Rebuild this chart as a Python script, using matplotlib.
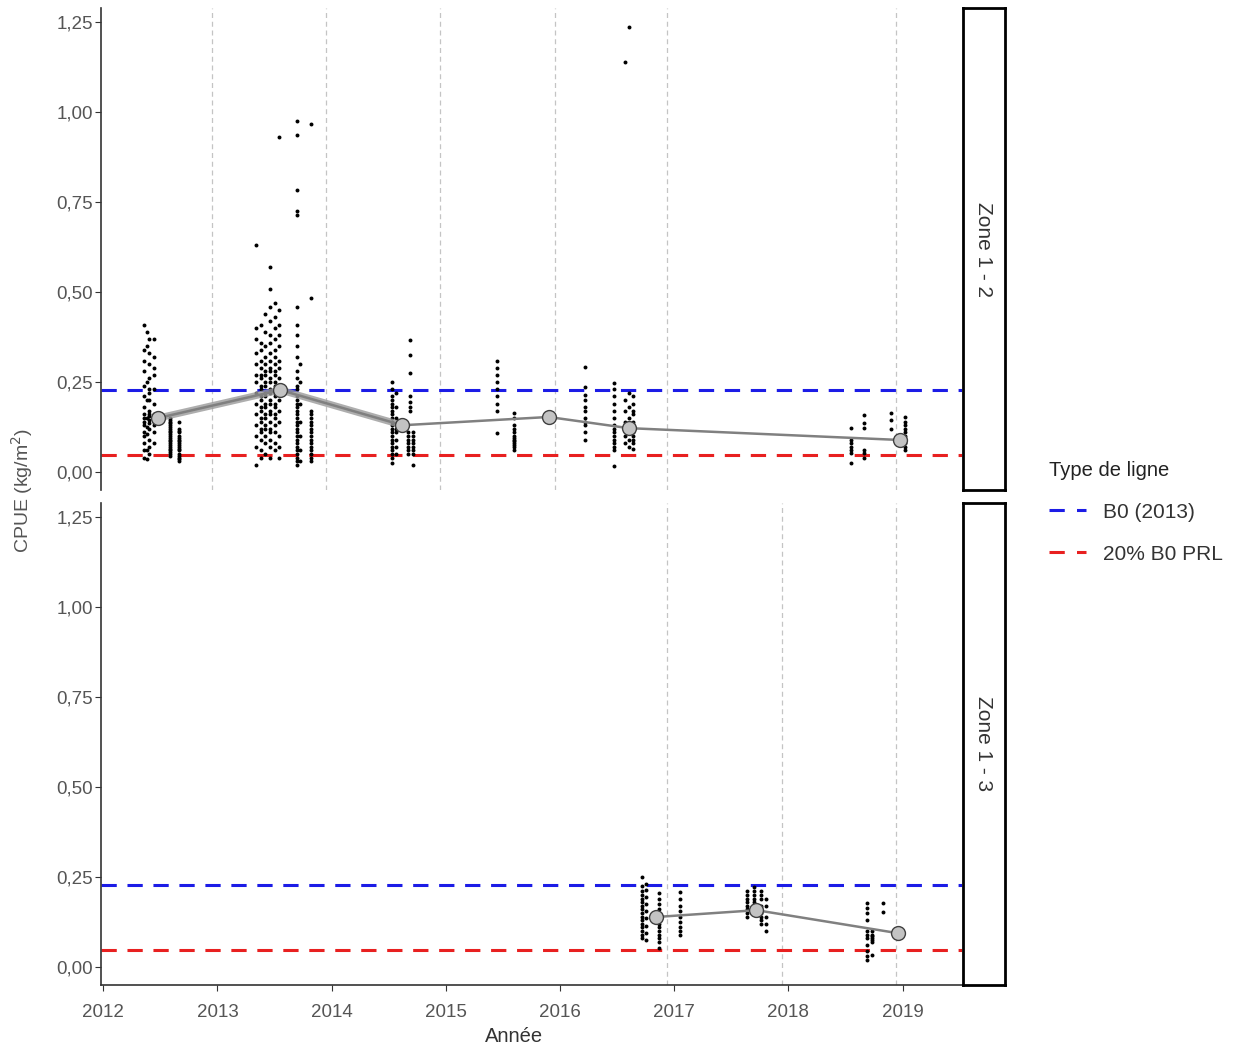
import matplotlib.pyplot as plt
from matplotlib.lines import Line2D

plt.rcParams['font.family'] = ['Liberation Sans', 'DejaVu Sans']

# reference levels
b0 = 0.228
prl = 0.047

# vertical guides (end of each fishing season)
vlines_z12 = [2012.95, 2013.95, 2014.95, 2015.96, 2016.94, 2018.94]
vlines_z13 = [2016.94, 2017.94, 2018.94]

# yearly means
mean_z12_x = [2012.48, 2013.55, 2014.62, 2015.90, 2016.60, 2018.98]
mean_z12_y = [0.150, 0.228, 0.130, 0.153, 0.122, 0.089]
mean_z13_x = [2016.84, 2017.72, 2018.96]
mean_z13_y = [0.139, 0.158, 0.094]

# individual tows, grouped by date column
z12_cols_x = [2012.36, 2012.40, 2012.44, 2012.38, 2012.585, 2012.66,
              2013.34, 2013.38, 2013.42, 2013.46, 2013.50, 2013.54,
              2013.70, 2013.72, 2013.82,
              2014.53, 2014.56, 2014.69, 2014.67, 2014.715,
              2015.45, 2015.60, 2016.22, 2016.47, 2016.57, 2016.60, 2016.64,
              2018.55, 2018.66, 2018.90, 2019.02]
z12_cols_y = [
    [0.41, 0.34, 0.31, 0.28, 0.24, 0.21, 0.18, 0.16, 0.15, 0.14, 0.13, 0.11, 0.10, 0.08, 0.06, 0.04],
    [0.37, 0.33, 0.30, 0.26, 0.23, 0.22, 0.20, 0.17, 0.16, 0.155, 0.145, 0.135, 0.12, 0.09, 0.07, 0.05],
    [0.37, 0.32, 0.29, 0.27, 0.23, 0.19, 0.16, 0.14, 0.13, 0.11, 0.08],
    [0.39, 0.35, 0.25, 0.20, 0.15, 0.125, 0.105, 0.06, 0.035],
    [0.15, 0.145, 0.14, 0.135, 0.13, 0.125, 0.12, 0.115, 0.11, 0.105, 0.10, 0.095,
     0.09, 0.085, 0.08, 0.075, 0.07, 0.065, 0.06, 0.055, 0.05, 0.045],
    [0.14, 0.12, 0.115, 0.11, 0.10, 0.095, 0.09, 0.085, 0.08, 0.075, 0.07, 0.065,
     0.06, 0.05, 0.045, 0.04, 0.035, 0.03],
    [0.63, 0.40, 0.37, 0.33, 0.30, 0.27, 0.25, 0.22, 0.19, 0.16, 0.13, 0.10, 0.07, 0.02],
    [0.41, 0.36, 0.34, 0.31, 0.29, 0.27, 0.26, 0.24, 0.23, 0.21, 0.20, 0.18, 0.17, 0.15,
     0.14, 0.12, 0.11, 0.09, 0.06, 0.04],
    [0.44, 0.39, 0.35, 0.32, 0.30, 0.28, 0.27, 0.25, 0.24, 0.22, 0.21, 0.19, 0.18, 0.16,
     0.15, 0.13, 0.12, 0.10, 0.08, 0.05],
    [0.57, 0.51, 0.46, 0.42, 0.38, 0.36, 0.33, 0.31, 0.29, 0.28, 0.26, 0.25, 0.23, 0.22,
     0.20, 0.19, 0.17, 0.16, 0.14, 0.12, 0.11, 0.09, 0.07, 0.04],
    [0.47, 0.43, 0.40, 0.37, 0.34, 0.32, 0.30, 0.28, 0.27, 0.25, 0.24, 0.22, 0.21, 0.19,
     0.18, 0.16, 0.15, 0.13, 0.11, 0.08, 0.06],
    [0.93, 0.45, 0.41, 0.38, 0.35, 0.31, 0.29, 0.26, 0.23, 0.20, 0.17, 0.14, 0.10, 0.07, 0.04],
    [0.975, 0.936, 0.783, 0.725, 0.715, 0.46, 0.41, 0.38, 0.35, 0.32, 0.28, 0.26, 0.24,
     0.23, 0.21, 0.20, 0.19, 0.18, 0.17, 0.16, 0.15, 0.14, 0.13, 0.12, 0.11, 0.10, 0.09,
     0.08, 0.07, 0.06, 0.05, 0.04, 0.03, 0.02],
    [0.30, 0.25, 0.19, 0.14, 0.10, 0.06, 0.03],
    [0.967, 0.483, 0.17, 0.16, 0.15, 0.14, 0.13, 0.12, 0.11, 0.10, 0.09, 0.08, 0.07,
     0.06, 0.05, 0.04, 0.03],
    [0.25, 0.23, 0.21, 0.20, 0.19, 0.18, 0.17, 0.16, 0.15, 0.14, 0.13, 0.12, 0.11, 0.10,
     0.09, 0.08, 0.07, 0.06, 0.05, 0.04, 0.025],
    [0.22, 0.18, 0.15, 0.13, 0.12, 0.11, 0.09, 0.07, 0.05],
    [0.367, 0.325, 0.275, 0.21, 0.195, 0.18, 0.17],
    [0.11, 0.10, 0.09, 0.08, 0.07, 0.06, 0.05],
    [0.11, 0.10, 0.09, 0.08, 0.07, 0.06, 0.05, 0.02],
    [0.31, 0.29, 0.27, 0.25, 0.23, 0.21, 0.19, 0.17, 0.108],
    [0.163, 0.15, 0.13, 0.12, 0.11, 0.10, 0.095, 0.09, 0.085, 0.08, 0.075, 0.07, 0.06],
    [0.292, 0.236, 0.215, 0.20, 0.18, 0.17, 0.15, 0.14, 0.13, 0.11, 0.09],
    [0.247, 0.23, 0.21, 0.19, 0.17, 0.15, 0.13, 0.12, 0.11, 0.10, 0.09, 0.08, 0.07, 0.06, 0.017],
    [1.139, 0.20, 0.17, 0.14, 0.12, 0.10, 0.08],
    [1.236, 0.22, 0.18, 0.15, 0.13, 0.11, 0.09, 0.07],
    [0.21, 0.19, 0.17, 0.16, 0.14, 0.12, 0.11, 0.10, 0.09, 0.08, 0.065],
    [0.122, 0.09, 0.08, 0.07, 0.06, 0.053, 0.025],
    [0.136, 0.158, 0.122, 0.06, 0.053, 0.04],
    [0.164, 0.144, 0.12],
    [0.153, 0.14, 0.13, 0.12, 0.11, 0.10, 0.09, 0.08, 0.07, 0.06],
]

z13_cols_x = [2016.72, 2016.75, 2016.87, 2017.05,
              2017.64, 2017.70, 2017.76, 2017.80,
              2018.69, 2018.73, 2018.83]
z13_cols_y = [
    [0.25, 0.225, 0.21, 0.20, 0.19, 0.18, 0.17, 0.16, 0.15, 0.14, 0.13, 0.12, 0.11, 0.10, 0.09, 0.08],
    [0.23, 0.215, 0.195, 0.175, 0.155, 0.135, 0.115, 0.095, 0.075],
    [0.206, 0.19, 0.175, 0.16, 0.145, 0.13, 0.12, 0.11, 0.10, 0.09, 0.08, 0.07, 0.053],
    [0.208, 0.19, 0.17, 0.155, 0.14, 0.125, 0.11, 0.10, 0.089],
    [0.21, 0.20, 0.19, 0.18, 0.17, 0.16, 0.15, 0.14],
    [0.222, 0.21, 0.20, 0.19, 0.18, 0.17, 0.16],
    [0.21, 0.20, 0.19, 0.17, 0.15, 0.14, 0.13, 0.12],
    [0.19, 0.17, 0.14, 0.12, 0.10],
    [0.178, 0.165, 0.15, 0.13, 0.10, 0.09, 0.08, 0.06, 0.045, 0.03, 0.02],
    [0.10, 0.09, 0.085, 0.08, 0.075, 0.07, 0.033],
    [0.178, 0.153],
]

years = [2012, 2013, 2014, 2015, 2016, 2017, 2018, 2019]
yticks = [0.0, 0.25, 0.5, 0.75, 1.0, 1.25]
ytick_labels = ['0,00', '0,25', '0,50', '0,75', '1,00', '1,25']

W, H = 1242, 1050
fig = plt.figure(figsize=(W / 100, H / 100), dpi=100)

def px_box(x0, y0, x1, y1):
    return [x0 / W, 1 - y1 / H, (x1 - x0) / W, (y1 - y0) / H]

ax1 = fig.add_axes(px_box(101, 8, 962, 490))
ax2 = fig.add_axes(px_box(101, 503, 962, 985))

txt_grey = '#555555'

def draw_panel(ax, cols_x, cols_y, mx, my, vlines, thick_upto, bottom_axis):
    for v in vlines:
        ax.axvline(v, color='#c4c4c4', lw=0.9, ls=(0, (4, 3)), zorder=1)
    ax.axhline(b0, color='#1c1ce6', lw=2.2, ls=(0, (5, 3.5)), zorder=2)
    ax.axhline(prl, color='#e82020', lw=2.2, ls=(0, (5, 3.5)), zorder=2)
    for x, ys in zip(cols_x, cols_y):
        ax.scatter([x] * len(ys), ys, s=8, color='black', lw=0, zorder=3)
    if thick_upto:
        ax.plot(mx[:thick_upto], my[:thick_upto], color='#9a9a9a', lw=5,
                alpha=0.8, zorder=4, solid_capstyle='round')
    ax.plot(mx, my, color='#808080', lw=1.8, zorder=4)
    ax.plot(mx, my, 'o', ms=10, mfc='#c3c3c3', mec='#404040', mew=1.0, zorder=5)

    ax.set_xlim(2011.98, 2019.52)
    ax.set_ylim(-0.05, 1.29)
    ax.set_yticks(yticks)
    ax.set_yticklabels(ytick_labels)
    ax.set_xticks(years)
    for s in ['top', 'right']:
        ax.spines[s].set_visible(False)
    ax.spines['left'].set_color('#333333')
    ax.spines['left'].set_linewidth(1.2)
    ax.tick_params(axis='y', length=4, color='#333333', labelsize=13.5,
                   labelcolor=txt_grey, pad=2)
    if bottom_axis:
        ax.spines['bottom'].set_color('#333333')
        ax.spines['bottom'].set_linewidth(1.2)
        ax.tick_params(axis='x', length=4, color='#333333', labelsize=13.5,
                       labelcolor=txt_grey, pad=10)
    else:
        ax.spines['bottom'].set_visible(False)
        ax.tick_params(axis='x', length=0, labelbottom=False)

draw_panel(ax1, z12_cols_x, z12_cols_y, mean_z12_x, mean_z12_y, vlines_z12, 3, False)
draw_panel(ax2, z13_cols_x, z13_cols_y, mean_z13_x, mean_z13_y, vlines_z13, 0, True)

# facet strips on the right
for (y0, y1), label in [((8, 490), 'Zone 1 - 2'), ((503, 985), 'Zone 1 - 3')]:
    sax = fig.add_axes(px_box(963, y0, 1005, y1))
    sax.set_xticks([])
    sax.set_yticks([])
    for sp in sax.spines.values():
        sp.set_linewidth(2.0)
        sp.set_color('black')
    sax.text(0.5, 0.5, label, rotation=-90, ha='center', va='center',
             fontsize=15, color='#333333', transform=sax.transAxes)

fig.text(22 / W, 1 - 490 / H, 'CPUE (kg/m$^2$)', rotation=90, ha='center',
         va='center', fontsize=14, color=txt_grey)
fig.text(514 / W, 1 - 1036 / H, 'Année', ha='center', va='center',
         fontsize=14.5, color='#333333')

handles = [Line2D([], [], color='#1c1ce6', lw=2.2, ls=(0, (5, 4))),
           Line2D([], [], color='#e82020', lw=2.2, ls=(0, (5, 4)))]
leg = fig.legend(handles, ['B0 (2013)', '20% B0 PRL'], title='Type de ligne',
                 loc='upper left', bbox_to_anchor=(1030 / W, 1 - 442 / H),
                 frameon=False, fontsize=15, title_fontsize=14.5,
                 handlelength=1.8, handletextpad=0.8, labelspacing=1.1,
                 alignment='left')
for t in leg.get_texts():
    t.set_color('#333333')
leg.get_title().set_color('#222222')

fig.savefig('out.png', dpi=100)
